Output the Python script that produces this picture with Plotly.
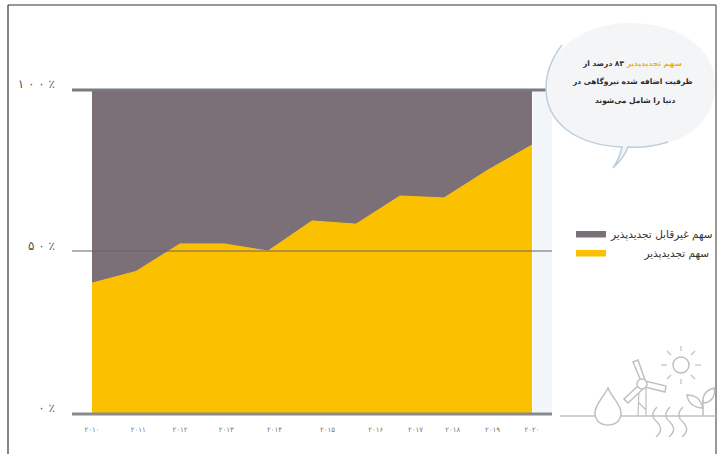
import plotly.graph_objects as go

W, H = 719, 454
L, R, T, B = 72, 552, 90, 414

years = list(range(2010, 2021))
renewable = [40.4, 44, 52.5, 52.5, 50.3, 59.6, 58.6, 67.3, 66.7, 75.3, 83]
non_renewable = [59.6, 56, 47.5, 47.5, 49.7, 40.4, 41.4, 32.7, 33.3, 24.7, 17]
x_label_pos = [2010, 2011.05, 2012, 2013.05, 2014.15, 2015.35, 2016.45, 2017.35, 2018.2, 2019.1, 2020]
x_labels = ["۲۰۱۰", "۲۰۱۱", "۲۰۱۲", "۲۰۱۳", "۲۰۱۴", "۲۰۱۵", "۲۰۱۶", "۲۰۱۷", "۲۰۱۸", "۲۰۱۹", "۲۰۲۰"]
y_ticks = [0, 50, 100]
y_labels = ["۰ ٪", "۵ ۰ ٪", "۱ ۰ ۰ ٪"]
name_renew = "سهم تجدیدپذیر"
name_non = "سهم غیرقابل تجدیدپذیر"
callout_lines = ["<span style='color:#e6b422'>سهم تجدیدپذیر</span> ۸۳ درصد از",
                 "ظرفیت اضافه شده نیروگاهی در",
                 "دنیا را شامل می‌شوند"]
YELLOW, PURPLE = "#fbc000", "#7b6f78"
ICON = "#c0c0c0"


def px(x):
    return (x - L) / (R - L)


def py(y):
    return (B - y) / (B - T)


def path(*items):
    out = []
    for it in items:
        if isinstance(it, str):
            out.append(it)
        else:
            out.append(f"{px(it[0]):.5f},{py(it[1]):.5f}")
    return " ".join(out)


def line_shape(x0, y0, x1, y1, color="#aaaaaa", width=1.5):
    return dict(type="line", xref="paper", yref="paper", x0=px(x0), y0=py(y0), x1=px(x1), y1=py(y1),
                line=dict(color=color, width=width), layer="above")


def path_shape(p, color=ICON, width=1.5, fill="rgba(0,0,0,0)", layer="above"):
    return dict(type="path", xref="paper", yref="paper", path=p, fillcolor=fill,
                line=dict(color=color, width=width), layer=layer)


fig = go.Figure()
fig.add_trace(go.Scatter(x=years, y=renewable, name="\u00a0" * 10 + name_renew, stackgroup="one", mode="lines",
                         line=dict(color=YELLOW, width=1), fillcolor=YELLOW))
fig.add_trace(go.Scatter(x=years, y=non_renewable, name=name_non, stackgroup="one", mode="lines",
                         line=dict(color=PURPLE, width=1), fillcolor=PURPLE))

shapes = []
# page frame
shapes += [line_shape(8, 5, 8, 454, "#333333", 1.2), line_shape(8, 5, 716, 5, "#333333", 1.2),
           line_shape(716, 5, 716, 454, "#555555", 1.2)]
# light strip to the right of the areas
shapes.append(dict(type="rect", xref="paper", yref="paper", x0=px(533), x1=px(552), y0=py(414), y1=py(92),
                   fillcolor="#f3f6f9", line_width=0, layer="below"))
# reference lines
shapes.append(line_shape(L, 90, R, 90, "#7a7a80", 3))
shapes.append(line_shape(L, 251, R, 251, "#6d6268", 1))
shapes.append(line_shape(L, 414, R, 414, "#8a8a8e", 3))
# speech bubble: soft fill, with a visible edge only on the lower left
bubble = path("M", (613, 168), "Q", (624, 158), (628, 147), "C", (680, 150), (715, 125), (715, 85),
              "C", (715, 45), (675, 23), (630, 23), "C", (585, 23), (546, 50), (546, 88),
              "C", (546, 122), (575, 145), (622, 147), "Q", (620, 158), (613, 168), "Z")
shapes.append(path_shape(bubble, "rgba(0,0,0,0)", 0, "#f4f5f7"))
edge = path("M", (562, 45), "C", (552, 58), (546, 72), (546, 88), "C", (546, 122), (575, 145), (622, 147),
            "Q", (620, 158), (613, 168), "Q", (624, 158), (628, 147), "C", (640, 148), (655, 146), (668, 142))
shapes.append(path_shape(edge, "#bccfdf", 1.5))

# icon: ground, drop, turbine, sun, waves, plant
shapes.append(line_shape(560, 416, 716, 416, ICON))
shapes.append(path_shape(path("M", (608, 388), "C", (603, 398), (595, 404), (595, 413), "C", (595, 421), (601, 425), (608, 425),
                              "C", (615, 425), (621, 421), (621, 413), "C", (621, 404), (612, 398), (608, 388), "Z"), fill="#ffffff"))
shapes.append(path_shape(path("M", (639, 388), "L", (638, 416), "M", (646, 388), "L", (646, 416), "M", (638, 402), "L", (646, 410)), width=1.2))
shapes.append(path_shape(path("M", (641, 381), "L", (633, 362), "L", (638, 360), "L", (645, 380), "Z"), fill="#ffffff"))
shapes.append(path_shape(path("M", (645, 381), "L", (666, 386), "L", (665, 392), "L", (645, 387), "Z"), fill="#ffffff"))
shapes.append(path_shape(path("M", (639, 385), "L", (624, 399), "L", (628, 403), "L", (643, 389), "Z"), fill="#ffffff"))
shapes.append(dict(type="circle", xref="paper", yref="paper", x0=px(637), x1=px(647), y0=py(389), y1=py(379),
                   fillcolor="#ffffff", line=dict(color=ICON, width=1.5), layer="above"))
shapes.append(dict(type="circle", xref="paper", yref="paper", x0=px(673), x1=px(689), y0=py(373), y1=py(357),
                   fillcolor="rgba(0,0,0,0)", line=dict(color=ICON, width=1.5), layer="above"))
ray_segments = [(681, 351, 681, 346), (681, 379, 681, 384), (667, 365, 661, 365), (695, 365, 701, 365),
                (671, 355, 667, 351), (691, 355, 695, 351), (671, 375, 667, 379), (691, 375, 695, 379)]
for seg in ray_segments:
    shapes.append(line_shape(*seg, ICON, 1.2))
for wx in (657, 670, 683):
    shapes.append(path_shape(path("M", (wx, 407), "C", (wx - 7, 414), (wx - 4, 419), (wx, 422),
                                  "C", (wx + 4, 426), (wx + 6, 431), (wx - 1, 437))))
shapes.append(path_shape(path("M", (703, 416), "L", (703, 400))))
shapes.append(path_shape(path("M", (703, 408), "C", (700, 398), (695, 395), (687, 395), "C", (688, 403), (694, 408), (703, 408), "Z")))
shapes.append(path_shape(path("M", (703, 403), "C", (702, 394), (707, 390), (714, 388), "C", (716, 396), (711, 403), (703, 403), "Z")))

annotations = [
    dict(text=f"<b>{line}</b>", xref="paper", yref="paper", x=px(cx), y=py(cy), showarrow=False, align="center",
         xanchor="center", yanchor="middle", font=dict(family="DejaVu Sans", size=7.5, color="#2a2a2a"))
    for line, cx, cy in zip(callout_lines, (632, 632, 635), (63, 82, 100))
]

fig.update_layout(
    width=W, height=H, autosize=False,
    margin=dict(l=L, r=W - R, t=T, b=H - B),
    paper_bgcolor="#ffffff", plot_bgcolor="rgba(0,0,0,0)",
    font=dict(family="DejaVu Sans"),
    shapes=shapes, annotations=annotations,
    showlegend=True,
    legend=dict(xref="container", x=571 / W, y=py(219), xanchor="left", yanchor="top", traceorder="reversed",
                font=dict(size=10.5, color="#333333"), bgcolor="rgba(0,0,0,0)", itemwidth=30,
                tracegroupgap=0),
    xaxis=dict(range=[2010 - 20 / 44, 2020 + 20 / 44], tickmode="array", tickvals=x_label_pos, ticktext=x_labels,
               showgrid=False, zeroline=False, showline=False, ticks="",
               tickfont=dict(size=7, color="#777777"), ticklabelstandoff=10),
    yaxis=dict(range=[0, 100], tickmode="array", tickvals=y_ticks, ticktext=y_labels,
               showgrid=False, zeroline=False, showline=False, ticks="",
               tickfont=dict(size=12, color="#555555"), ticklabelstandoff=16, ticklabelshift=-6),
)
fig.write_html("out.html", config={"displayModeBar": False},
               post_script="document.body.style.margin='0';document.body.style.overflow='hidden';")
